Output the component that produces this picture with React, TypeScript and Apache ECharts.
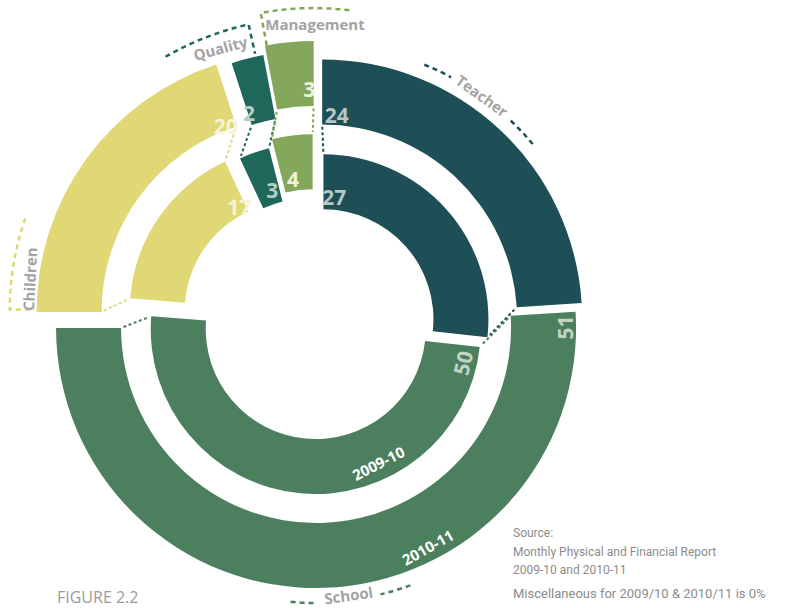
import React, { useEffect, useRef } from 'react';
import * as echarts from 'echarts';

// ---------- data ----------
const CATEGORIES = ['Teacher', 'School', 'Children', 'Quality', 'Management'];
const VALUES_2009_10 = [27, 50, 17, 3, 4];
const VALUES_2010_11 = [24, 51, 20, 2, 3];
const RING_NAMES = ['2009-10', '2010-11'];
const FIGURE_TITLE = 'FIGURE 2.2';
const SOURCE_LINES = ['Source:', 'Monthly Physical and Financial Report', '2009-10 and 2010-11'];
const NOTE = 'Miscellaneous for 2009/10 & 2010/11 is 0%';

// ---------- styling ----------
const COLORS = ['#1e4f56', '#4b7f5e', '#e0d875', '#1f665b', '#84a75b'];
const VALUE_COLORS = ['#b7c6c7', '#c3d4c6', '#f7f4d6', '#b4cec6', '#eef2db'];
const GRAY = '#a3a3a3';
const CX = 316;
const CY = 326;

const RINGS = [
  {
    name: RING_NAMES[0],
    values: VALUES_2009_10,
    radius: [110, 165],
    offsets: [10, 3, 26, 19, 27],
    labelPos: [[0.052, 123], [0.038, 151], [0.95, 118], [0.69, 124], [0.35, 122]],
    yearLabel: [155, 148, 27],
  },
  {
    name: RING_NAMES[1],
    values: VALUES_2010_11,
    radius: [195, 260],
    offsets: [9, 2, 24, 16, 25],
    labelPos: [[0.047, 205], [0.019, 249], [0.96, 199], [0.04, 207], [0.89, 212]],
    yearLabel: [153, 246, 29],
  },
];

const pt = (c: number[], r: number, deg: number) => {
  const a = (deg * Math.PI) / 180;
  return [c[0] + r * Math.sin(a), c[1] - r * Math.cos(a)];
};
const rad = (deg: number) => ((deg - 90) * Math.PI) / 180;

function geometry(ring: any) {
  const total = ring.values.reduce((a: number, b: number) => a + b, 0);
  let cum = 0;
  return ring.values.map((v: number, i: number) => {
    const start = (cum / total) * 360;
    cum += v;
    const end = (cum / total) * 360;
    const mid = (start + end) / 2;
    return { start, end, mid, center: pt([CX, CY], ring.offsets[i], mid) };
  });
}

function bracket(c: number[], r: number, from: number, to: number, tailR: number) {
  const pts: number[][] = [];
  const n = 24;
  for (let k = 0; k <= n; k++) pts.push(pt(c, r, from + ((to - from) * k) / n));
  pts.push(pt(c, tailR, to));
  return pts;
}

function text(x: number, y: number, t: string, opts: any = {}) {
  return {
    type: 'text',
    x,
    y,
    z: 100,
    rotation: ((opts.rot || 0) * Math.PI) / 180,
    style: {
      text: t,
      fill: opts.color || GRAY,
      fontSize: opts.size || 15,
      fontWeight: opts.weight || 'bold',
      fontFamily: opts.family || '"Open Sans", sans-serif',
      align: opts.align || 'center',
      verticalAlign: 'middle',
      textAlign: opts.align || 'center',
      textVerticalAlign: 'middle',
    },
  };
}

function dashed(points: number[][], color: string, width = 2.5, dash = [5, 4]) {
  return {
    type: 'polyline',
    z: 99,
    shape: { points },
    style: { stroke: color, lineWidth: width, lineDash: dash, fill: null },
  };
}

function dashedArc(c: number[], r: number, from: number, to: number, color: string) {
  return {
    type: 'arc',
    z: 99,
    shape: { cx: c[0], cy: c[1], r, startAngle: rad(from), endAngle: rad(to), clockwise: true },
    style: { stroke: color, lineWidth: 2.5, lineDash: [5, 4], fill: null },
  };
}

export default function App() {
  const ref = useRef<HTMLDivElement>(null);

  useEffect(() => {
    if (!ref.current) return;
    const chart = echarts.init(ref.current, undefined, { renderer: 'svg' });

    const series: any[] = [];
    const graphics: any[] = [];
    const geos = RINGS.map(geometry);

    RINGS.forEach((ring, ri) => {
      const geo = geos[ri];
      geo.forEach((g: any, i: number) => {
        series.push({
          type: 'pie',
          name: ring.name + ' ' + CATEGORIES[i],
          silent: true,
          center: g.center,
          radius: ring.radius,
          startAngle: 90,
          clockwise: true,
          avoidLabelOverlap: false,
          label: { show: false },
          labelLine: { show: false },
          emphasis: { disabled: true },
          itemStyle: { borderWidth: 0 },
          data: ring.values.map((v: number, j: number) => ({
            name: CATEGORIES[j],
            value: v,
            itemStyle: { color: j === i ? COLORS[j] : 'rgba(0,0,0,0)' },
          })),
        });
        // value labels
        const [frac, r] = ring.labelPos[i];
        const ang = g.start + frac * (g.end - g.start);
        const p = pt(g.center, r, ang);
        graphics.push(
          text(p[0], p[1], String(ring.values[i]), {
            color: VALUE_COLORS[i],
            size: 21,
            rot: i === 1 ? 180 - ang : 0,
          })
        );
      });
      // ring (year) label on the School slice
      const [yAng, yR, yRot] = ring.yearLabel;
      const yp = pt(geo[1].center, yR, yAng);
      graphics.push(text(yp[0], yp[1], ring.name, { color: '#ffffff', size: 15, rot: yRot }));
    });

    // dashed connectors between outer and inner pieces
    const outer = geos[1];
    const inner = geos[0];
    CATEGORIES.forEach((_, i) => {
      (['start', 'end'] as const).forEach((k) => {
        const a = pt(outer[i].center, RINGS[1].radius[0], outer[i][k]);
        const b = pt(inner[i].center, RINGS[0].radius[1], inner[i][k]);
        const t0 = 0.08;
        const t1 = 0.92;
        const p0 = [a[0] + (b[0] - a[0]) * t0, a[1] + (b[1] - a[1]) * t0];
        const p1 = [a[0] + (b[0] - a[0]) * t1, a[1] + (b[1] - a[1]) * t1];
        graphics.push(dashed([p0, p1], COLORS[i], 2, [3, 2.5]));
      });
    });

    // category labels with dashed brackets
    const base = [CX, CY];
    // Teacher
    graphics.push(dashedArc(base, 283, 22.5, 28.5, COLORS[0]));
    graphics.push(dashedArc(base, 283, 43.5, 50, COLORS[0]));
    const tp = pt(base, 284, 35.8);
    graphics.push(text(tp[0], tp[1], CATEGORIES[0], { rot: -35.8 }));
    // School
    graphics.push(dashedArc(base, 276, 160, 166.5, COLORS[1]));
    graphics.push(dashedArc(base, 277, 180.5, 185.5, COLORS[1]));
    const sp = pt(base, 271, 173.1);
    graphics.push(text(sp[0], sp[1], CATEGORIES[1], { rot: 8 }));
    // Children
    graphics.push(dashed(bracket(outer[2].center, 287, 289, 270.5, 262), COLORS[2]));
    const chp = pt(outer[2].center, 269, 277);
    graphics.push(text(chp[0], chp[1], CATEGORIES[2], { rot: 87 }));
    // Quality
    graphics.push(dashed(bracket(outer[3].center, 293, 330, 347.5, 263), COLORS[3]));
    const qp = pt(base, 294, 341);
    graphics.push(text(qp[0], qp[1], CATEGORIES[3], { rot: 15 }));
    // Management
    graphics.push(dashed(bracket(outer[4].center, 293, 7, -10.4, 257), COLORS[4]));
    graphics.push(text(315, 24, CATEGORIES[4], {}));

    // footer texts
    graphics.push(text(57, 597, FIGURE_TITLE, { align: 'left', size: 16, weight: 'normal', color: '#9a9a9a' }));
    SOURCE_LINES.forEach((l, k) => {
      graphics.push(
        text(513, 533 + k * 18.5, l, {
          align: 'left',
          size: 12,
          weight: 'normal',
          color: '#8c8c8c',
          family: 'Roboto, sans-serif',
        })
      );
    });
    graphics.push(
      text(513, 593, NOTE, { align: 'left', size: 13, weight: 'normal', color: '#8c8c8c', family: 'Roboto, sans-serif' })
    );

    chart.setOption({
      animation: false,
      backgroundColor: '#ffffff',
      series,
      graphic: { elements: graphics },
    });

    return () => chart.dispose();
  }, []);

  return (
    <div
      ref={ref}
      style={{ position: 'fixed', left: 0, top: 0, width: 787, height: 608, background: '#fff' }}
    />
  );
}
